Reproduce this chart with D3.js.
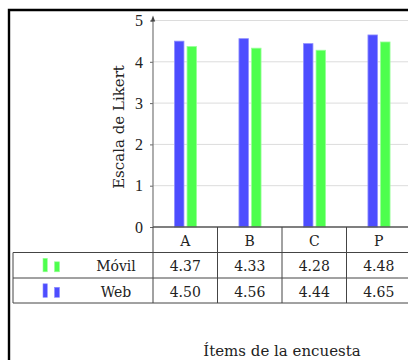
<!DOCTYPE html>
<html>
<head>
<meta charset="utf-8">
<script src="https://cdn.jsdelivr.net/npm/d3@7"></script>
<style>
  html, body { margin: 0; padding: 0; background: #fff; }
  svg { display: block; }
  text { font-family: "DejaVu Serif", serif; fill: #222; }
  .tick text { font-family: "Liberation Serif", serif; }
</style>
</head>
<body>
<div id="chart"></div>
<script>
// data
const items = ['A', 'B', 'C', 'P'];
const movil = [4.37, 4.33, 4.28, 4.48];
const web = [4.50, 4.56, 4.44, 4.65];
const yTicks = [0, 1, 2, 3, 4, 5];
const seriesNames = ['Móvil', 'Web'];

const W = 408, H = 360;
const svg = d3.select('#chart').append('svg').attr('width', W).attr('height', H);

// frame (cropped page)
svg.append('path').attr('d', `M9,${H} V10 H${W}`)
  .attr('fill', 'none').attr('stroke', '#000').attr('stroke-width', 2.4);

const x = d3.scaleBand().domain(items).range([153, 153 + 4 * 64.5]).padding(0);
const y = d3.scaleLinear().domain([0, 5]).range([227, 20.5]);

// grid
svg.append('g').selectAll('line').data(yTicks.filter(d => d > 0)).join('line')
  .attr('x1', 153).attr('x2', W)
  .attr('y1', d => y(d)).attr('y2', d => y(d))
  .attr('stroke', '#dcdcdc').attr('stroke-width', 1);

// bars
const bw = 9.5;
const g = svg.append('g');
g.selectAll('rect.web').data(items).join('rect').attr('class', 'web')
  .attr('x', d => x(d) + x.bandwidth() / 2 - 10.8)
  .attr('width', bw)
  .attr('y', (d, i) => y(web[i]))
  .attr('height', (d, i) => y(0) - y(web[i]))
  .attr('fill', '#4d4dff').attr('stroke', '#8f8fff').attr('stroke-width', 0.8);
g.selectAll('rect.mov').data(items).join('rect').attr('class', 'mov')
  .attr('x', d => x(d) + x.bandwidth() / 2 + 1.8)
  .attr('width', bw)
  .attr('y', (d, i) => y(movil[i]))
  .attr('height', (d, i) => y(0) - y(movil[i]))
  .attr('fill', '#4dff4d').attr('stroke', '#99ff99').attr('stroke-width', 0.8);

// y axis
const yAxis = d3.axisLeft(y).tickValues(yTicks).tickSize(3).tickPadding(7).tickFormat(d3.format('d'));
const ya = svg.append('g').attr('transform', 'translate(153,0)').call(yAxis);
ya.select('.domain').remove();
ya.selectAll('.tick line').attr('stroke', '#666');
ya.selectAll('.tick text').style('font-size', '16px').attr('fill', '#222').attr('dy', '0.33em');
svg.append('line').attr('x1', 153).attr('x2', 153).attr('y1', 227).attr('y2', 18)
  .attr('stroke', '#777').attr('stroke-width', 1.2);
svg.append('path').attr('d', 'M150.8,21.5 L153,15.5 L155.2,21.5 Z').attr('fill', '#444');

svg.append('text')
  .attr('transform', 'translate(124,127) rotate(-90)')
  .attr('text-anchor', 'middle')
  .style('font-size', '15px')
  .text('Escala de Likert');

// table
const rowY = [227, 252.5, 278, 303];
const tbl = svg.append('g').attr('stroke', '#444').attr('stroke-width', 1);
tbl.append('line').attr('x1', 153).attr('x2', W).attr('y1', rowY[0]).attr('y2', rowY[0]).attr('stroke', '#555').attr('stroke-width', 1.3);
[1, 2, 3].forEach(r => tbl.append('line').attr('x1', 13).attr('x2', W).attr('y1', rowY[r]).attr('y2', rowY[r]));
tbl.append('line').attr('x1', 13).attr('x2', 13).attr('y1', rowY[1]).attr('y2', rowY[3]);
tbl.selectAll('line.col').data(items.concat(['end'])).join('line').attr('class', 'col')
  .attr('x1', (d, i) => 153 + i * x.step()).attr('x2', (d, i) => 153 + i * x.step())
  .attr('y1', rowY[0]).attr('y2', rowY[3]);

const cellFont = '14px';
svg.append('g').selectAll('text').data(items).join('text')
  .attr('x', d => x(d) + x.bandwidth() / 2).attr('y', 245.5)
  .attr('text-anchor', 'middle').style('font-size', cellFont).text(d => d);

const rows = [movil, web];
const colors = ['#4dff4d', '#4d4dff'];
const strokes = ['#99ff99', '#8f8fff'];
rows.forEach((vals, r) => {
  const base = rowY[r + 1] + 18.8;
  svg.append('g').selectAll('text').data(items).join('text')
    .attr('x', d => x(d) + x.bandwidth() / 2).attr('y', base)
    .attr('text-anchor', 'middle').style('font-size', cellFont)
    .text((d, i) => vals[i].toFixed(2));
  svg.append('text').attr('x', 116).attr('y', base)
    .attr('text-anchor', 'middle').style('font-size', cellFont).text(seriesNames[r]);
  // legend image
  const lg = svg.append('g').attr('fill', colors[r]).attr('stroke', strokes[r]).attr('stroke-width', 0.6);
  lg.append('rect').attr('x', 43).attr('y', base - 13).attr('width', 4.3).attr('height', 13.5);
  lg.append('rect').attr('x', 54.5).attr('y', base - 9.5).attr('width', 5).attr('height', 10);
});

svg.append('text')
  .attr('x', 282).attr('y', 356)
  .attr('text-anchor', 'middle')
  .style('font-size', '15px')
  .text('Ítems de la encuesta');
</script>
</body>
</html>
